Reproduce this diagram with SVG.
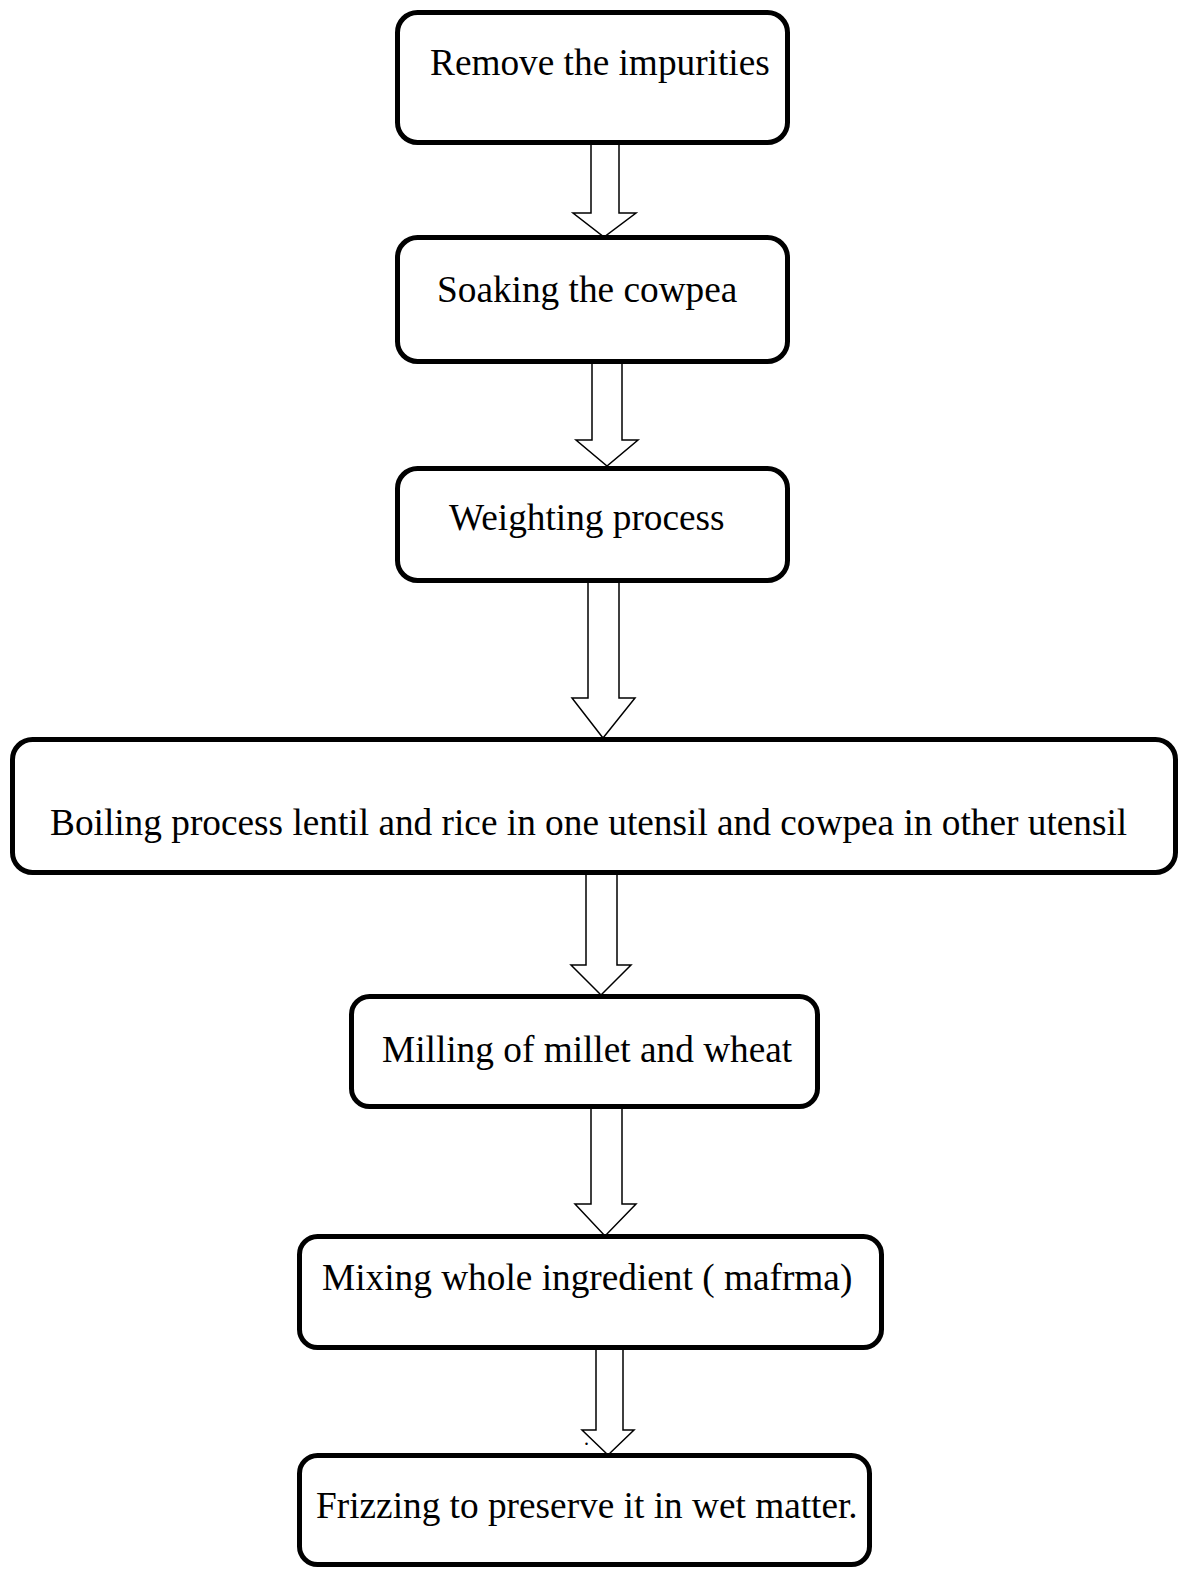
<svg xmlns="http://www.w3.org/2000/svg" width="1183" height="1569" viewBox="0 0 1183 1569">
<style>
.box{fill:#fff;stroke:#000;stroke-width:5}
.arr{fill:#fff;stroke:#000;stroke-width:1.5;stroke-linejoin:miter}
.t{font-family:"Liberation Serif","Times New Roman",serif;font-size:37.3px;fill:#000}
</style>
<rect width="1183" height="1569" fill="#fff"/>
<g id="connectors">
<path class="arr" d="M591,143 V213 H573 L604,237 L636,213 H619 V143 Z"/>
<path class="arr" d="M592,362 V440 H576 L607,466 L638,440 H622 V362 Z"/>
<path class="arr" d="M588,581 V698 H572 L603,738 L635,698 H619 V581 Z"/>
<path class="arr" d="M586,874 V965 H571 L601,995 L631,965 H617 V874 Z"/>
<path class="arr" d="M591,1108 V1204 H575 L605,1236 L636,1204 H622 V1108 Z"/>
<path class="arr" d="M596,1349 V1430 H582 L608,1455 L634,1430 H623 V1349 Z"/>
</g>
<g id="n1"><rect class="box" x="397.5" y="12.5" width="390" height="130" rx="20"/><text class="t" x="430" y="75">Remove the impurities</text></g>
<g id="n2"><rect class="box" x="397.5" y="237.5" width="390" height="124" rx="20"/><text class="t" x="437" y="302">Soaking the cowpea</text></g>
<g id="n3"><rect class="box" x="397.5" y="468.5" width="390" height="112" rx="20"/><text class="t" x="449" y="530">Weighting process</text></g>
<g id="n4"><rect class="box" x="12.5" y="739.5" width="1163" height="133" rx="20"/><text class="t" x="50" y="835">Boiling process lentil and rice in one utensil and cowpea in other utensil</text></g>
<g id="n5"><rect class="box" x="351.5" y="996.5" width="466" height="110" rx="18"/><text class="t" x="382" y="1062">Milling of millet and wheat</text></g>
<g id="n6"><rect class="box" x="299.5" y="1236.5" width="582" height="111" rx="18"/><text class="t" x="322" y="1290">Mixing whole ingredient ( mafrma)</text></g>
<g id="n7"><rect class="box" x="299.5" y="1455.5" width="570" height="109" rx="18"/><text class="t" x="316" y="1518">Frizzing to preserve it in wet matter.</text></g>
<text class="t" x="584" y="1445" style="font-size:20px">.</text>
</svg>
